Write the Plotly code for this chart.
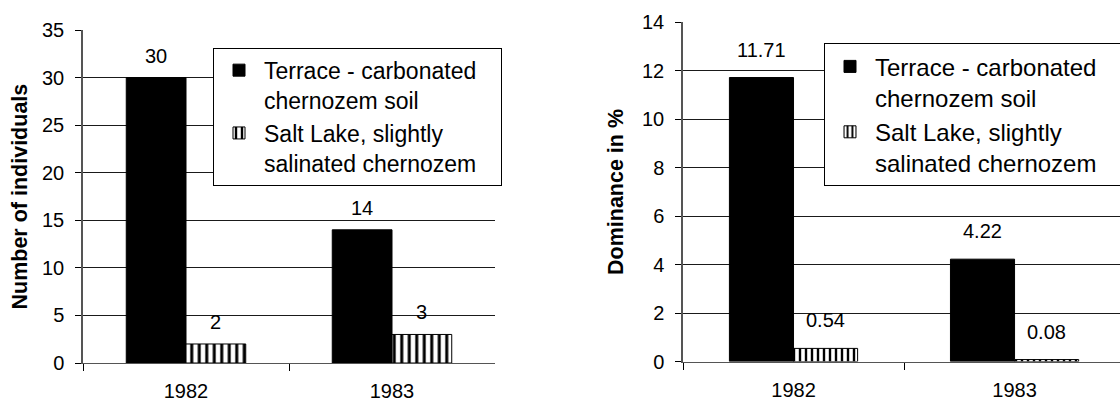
import plotly.graph_objects as go

# ---------------- data ----------------
years = ["1982", "1983"]
series_names = ["Terrace - carbonated<br>chernozem soil",
                "Salt Lake, slightly<br>salinated chernozem"]
individuals_terrace = [30, 14]
individuals_saltlake = [2, 3]
dominance_terrace = [11.71, 4.22]
dominance_saltlake = [0.54, 0.08]
label_individuals_terrace = ["30", "14"]
label_individuals_saltlake = ["2", "3"]
label_dominance_terrace = ["11.71", "4.22"]
label_dominance_saltlake = ["0.54", "0.08"]

# ---------------- style ----------------
W, H = 1120, 401
FONT = "Arial, Liberation Sans, sans-serif"
BARGAP = 0.42
GRID = "#1a1a1a"
AXIS = "#555555"
PAD = "&nbsp;" * 3   # right padding inside legend boxes

fig = go.Figure()

def add_pair(xaxis, yaxis, terrace, salt, legend, hatch_size):
    n0 = series_names[0].replace("<br>", PAD + "<br>", 1)
    n1 = series_names[1]
    fig.add_trace(go.Bar(
        x=years, y=terrace, name=n0, xaxis=xaxis, yaxis=yaxis,
        legend=legend,
        marker=dict(color="black", line=dict(color="black", width=1)),
    ))
    fig.add_trace(go.Bar(
        x=years, y=salt, name=n1, xaxis=xaxis, yaxis=yaxis,
        legend=legend,
        marker=dict(color="white", line=dict(color="black", width=1),
                    pattern=dict(shape="|", fgcolor="black", bgcolor="white",
                                 size=hatch_size, solidity=0.4)),
    ))

add_pair("x", "y", individuals_terrace, individuals_saltlake, "legend", 7.5)
add_pair("x2", "y2", dominance_terrace, dominance_saltlake, "legend2", 6)

# value labels
off = (1 - BARGAP) / 4
annotations = []
def add_labels(xref, yref, vals, labels, sign, shift):
    for i, (v, t) in enumerate(zip(vals, labels)):
        annotations.append(dict(
            x=i + sign * off, y=v, xref=xref, yref=yref, text=t,
            showarrow=False, yanchor="middle", xanchor="center", yshift=shift,
            font=dict(family=FONT, size=20, color="black")))

add_labels("x", "y", individuals_terrace, label_individuals_terrace, -1, 22)
add_labels("x", "y", individuals_saltlake, label_individuals_saltlake, 1, 22)
add_labels("x2", "y2", dominance_terrace, label_dominance_terrace, -1, 28)
add_labels("x2", "y2", dominance_saltlake, label_dominance_saltlake, 1, 28)

# axis titles
annotations.append(dict(x=20 / W, y=(H - 196.5) / H, xref="paper", yref="paper",
                        text="<b>Number of individuals</b>", textangle=-90,
                        showarrow=False, xanchor="center", yanchor="middle",
                        font=dict(family=FONT, size=21.5, color="black")))
annotations.append(dict(x=616 / W, y=(H - 192) / H, xref="paper", yref="paper",
                        text="<b>Dominance in %</b>", textangle=-90,
                        showarrow=False, xanchor="center", yanchor="middle",
                        font=dict(family=FONT, size=21.5, color="black")))

xcommon = dict(type="category", showline=True, linecolor=AXIS, linewidth=1,
               ticks="outside", ticklen=7, tickcolor="black", tickson="boundaries",
               showgrid=False, zeroline=False, ticklabelstandoff=10,
               tickfont=dict(family=FONT, size=20, color="black"), fixedrange=True)
ycommon = dict(showline=True, linecolor=AXIS, linewidth=1.5, ticks="outside",
               ticklen=6, tickcolor="black", showgrid=True, gridcolor=GRID,
               gridwidth=1, zeroline=False, ticklabelstandoff=7,
               tickfont=dict(family=FONT, size=20, color="black"), fixedrange=True)

fig.update_layout(
    template="none",
    width=W, height=H,
    margin=dict(l=0, r=0, t=0, b=0, autoexpand=False),
    paper_bgcolor="white", plot_bgcolor="white",
    barmode="group", bargap=BARGAP, bargroupgap=0,
    font=dict(family=FONT, color="black"),
    xaxis=dict(xcommon, domain=[83 / W, 495 / W], anchor="y", range=[-0.5, 1.5]),
    yaxis=dict(ycommon, domain=[(H - 363) / H, (H - 30) / H], anchor="x",
               range=[0, 35], dtick=5, tick0=0),
    xaxis2=dict(xcommon, domain=[683 / W, 1.0], anchor="y2", range=[-0.5, 1.477]),
    yaxis2=dict(ycommon, domain=[(H - 361.5) / H, (H - 22) / H], anchor="x2",
                range=[0, 14], dtick=2, tick0=0),
    legend=dict(x=213 / W, y=(H - 47.7) / H, xanchor="left", yanchor="top",
                xref="paper", yref="paper",
                bgcolor="white", bordercolor="black", borderwidth=1,
                font=dict(family=FONT, size=23, color="black"),
                valign="top", itemwidth=40, traceorder="normal",
                itemclick=False, itemdoubleclick=False),
    legend2=dict(x=824 / W, y=(H - 43.3) / H, xanchor="left", yanchor="top",
                 xref="paper", yref="paper",
                 bgcolor="white", bordercolor="black", borderwidth=1,
                 font=dict(family=FONT, size=24, color="black"),
                 valign="top", itemwidth=40, traceorder="normal",
                 itemclick=False, itemdoubleclick=False),
    annotations=annotations,
    showlegend=True,
)

fig.write_html(
    "out.html",
    config={"displayModeBar": False},
    post_script="document.body.style.margin='0';document.body.style.overflow='hidden';",
)
